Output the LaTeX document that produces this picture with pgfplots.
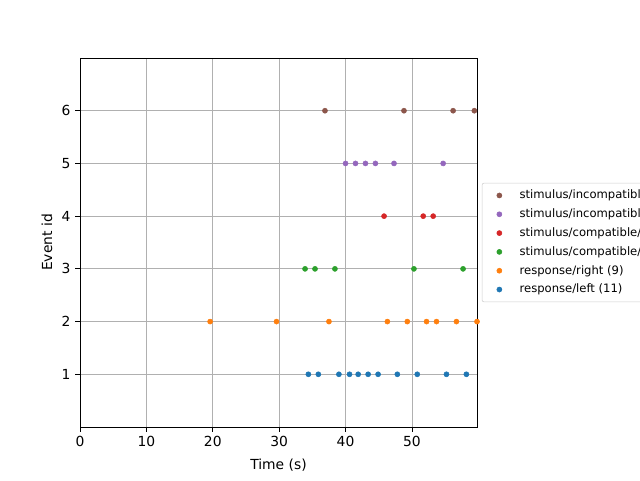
\documentclass[border=0pt]{standalone}
\usepackage{fontspec}
\setmainfont{DejaVu Sans}
\usepackage{pgfplots}
\pgfplotsset{compat=1.18}
\definecolor{tblue}{HTML}{1F77B4}
\definecolor{torange}{HTML}{FF7F0E}
\definecolor{tgreen}{HTML}{2CA02C}
\definecolor{tred}{HTML}{D62728}
\definecolor{tpurple}{HTML}{9467BD}
\definecolor{tbrown}{HTML}{8C564B}
\definecolor{gridgray}{HTML}{B0B0B0}
\definecolor{leggray}{HTML}{CCCCCC}
\begin{document}
\begin{tikzpicture}
\useasboundingbox (-60pt,-39.75pt) rectangle (420pt,320.25pt);
\clip (-60pt,-39.75pt) rectangle (420pt,320.25pt);
\begin{axis}[
  scale only axis, width=297.75pt, height=276.75pt,
  at={(0,0)}, anchor=south west,
  xmin=0, xmax=59.8, ymin=0, ymax=7,
  xtick={0,10,...,50}, ytick={1,...,6},
  grid=major, grid style={color=gridgray, line width=0.6pt},
  axis line style={line width=0.6pt},
  tick style={black, line width=0.6pt},
  tick align=outside, major tick length=3.65pt, tick pos=left,
  /pgf/number format/assume math mode=true,
  ticklabel style={font=\fontsize{10.4}{12}\selectfont},
  label style={font=\fontsize{10.4}{12}\selectfont},
  xlabel={Time (s)}, ylabel={Event id},
  xlabel style={yshift=-2pt},
  every axis plot/.append style={only marks, mark=*, mark size=1.9pt},
  legend image code/.code={
    \path[draw=none, fill=none] (0pt,-1pt) rectangle (23pt,1pt);
    \path[#1, draw=none] plot[mark=*] coordinates {(10pt,0pt)};
  },
  reverse legend,
  legend cell align=left,
  legend style={at={(1.012,0.5)}, anchor=west,
    font=\fontsize{8.7}{10}\selectfont, draw=leggray,
    rounded corners=1.5pt, row sep=1.6pt, inner sep=3pt,
    nodes={inner sep=2.2pt}},
]
\addplot[tblue, mark options={fill=tblue, draw=tblue}] coordinates {
  (34.4,1) (35.9,1) (39.0,1) (40.6,1) (41.9,1) (43.4,1)
  (44.9,1) (47.8,1) (50.8,1) (55.2,1) (58.2,1)
};
\addlegendentry{response/left (11)}
\addplot[torange, mark options={fill=torange, draw=torange}] coordinates {
  (19.6,2) (29.6,2) (37.5,2) (46.3,2) (49.3,2) (52.2,2)
  (53.7,2) (56.7,2) (59.8,2)
};
\addlegendentry{response/right (9)}
\addplot[tgreen, mark options={fill=tgreen, draw=tgreen}] coordinates {
  (33.9,3) (35.4,3) (38.4,3) (50.3,3) (57.7,3)
};
\addlegendentry{stimulus/compatible/target\_left (5)}
\addplot[tred, mark options={fill=tred, draw=tred}] coordinates {
  (45.8,4) (51.7,4) (53.2,4)
};
\addlegendentry{stimulus/compatible/target\_right (3)}
\addplot[tpurple, mark options={fill=tpurple, draw=tpurple}] coordinates {
  (40.0,5) (41.5,5) (43.0,5) (44.5,5) (47.3,5) (54.7,5)
};
\addlegendentry{stimulus/incompatible/target\_left (6)}
\addplot[tbrown, mark options={fill=tbrown, draw=tbrown}] coordinates {
  (36.9,6) (48.8,6) (56.2,6) (59.4,6)
};
\addlegendentry{stimulus/incompatible/target\_right (4)}
\end{axis}
\end{tikzpicture}
\end{document}
